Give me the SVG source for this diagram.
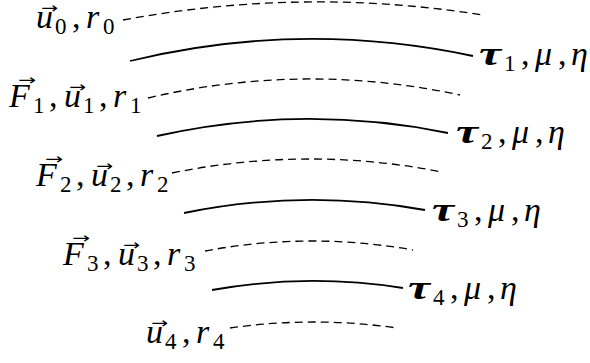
<svg xmlns="http://www.w3.org/2000/svg" width="590" height="363" viewBox="0 0 590 363">
<style>
.t{font-family:"Liberation Serif","DejaVu Serif",serif;font-size:34px;fill:#000}
.i{font-style:italic}
.s{font-size:23px;font-style:normal}
.b{font-weight:bold;font-style:italic}
.a{font-family:"DejaVu Sans",sans-serif;font-size:15px;fill:#000}
.sol{fill:none;stroke:#000;stroke-width:1.8}
.das{fill:none;stroke:#000;stroke-width:1.3;stroke-dasharray:8 5}
</style>
<rect width="590" height="363" fill="#fff"/>
<g id="connectors">
<path class="das" d="M123,20 Q303,-13.5 483,15"/>
<path class="sol" d="M130,61 Q301,19.5 473,56"/>
<path class="das" d="M148,98 Q304,61.5 460,95"/>
<path class="sol" d="M157,136 Q302,103.5 448,133"/>
<path class="das" d="M172,173 Q307,145.5 442,172"/>
<path class="sol" d="M184,213 Q304,188.5 425,210"/>
<path class="das" d="M205,251 Q309,231.5 413,250"/>
<path class="sol" d="M212,290 Q307,273 403,288"/>
<path class="das" d="M230,328 Q313,316 397,328"/>
</g>
<g id="label-u0" transform="translate(36,28)">
<text class="t"><tspan class="i" x="0" y="0">u</tspan><tspan class="s" x="19" y="6">0</tspan><tspan x="36" y="0">,</tspan><tspan class="i" x="50" y="0">r</tspan><tspan class="s" x="67" y="6">0</tspan></text>
<text class="a" x="5" y="-15" textLength="17" lengthAdjust="spacingAndGlyphs">→</text>
</g>
<g id="label-F1" transform="translate(9,107)">
<text class="t"><tspan class="i" x="0" y="0">F</tspan><tspan class="s" x="24" y="6">1</tspan><tspan x="40" y="0">,</tspan><tspan class="i" x="55" y="0">u</tspan><tspan class="s" x="74" y="6">1</tspan><tspan x="90" y="0">,</tspan><tspan class="i" x="104" y="0">r</tspan><tspan class="s" x="121" y="6">1</tspan></text>
<text class="a" x="9" y="-22" textLength="18" lengthAdjust="spacingAndGlyphs">→</text>
<text class="a" x="60" y="-15" textLength="17" lengthAdjust="spacingAndGlyphs">→</text>
</g>
<g id="label-F2" transform="translate(36,186)">
<text class="t"><tspan class="i" x="0" y="0">F</tspan><tspan class="s" x="24" y="6">2</tspan><tspan x="40" y="0">,</tspan><tspan class="i" x="55" y="0">u</tspan><tspan class="s" x="74" y="6">2</tspan><tspan x="90" y="0">,</tspan><tspan class="i" x="104" y="0">r</tspan><tspan class="s" x="121" y="6">2</tspan></text>
<text class="a" x="9" y="-22" textLength="18" lengthAdjust="spacingAndGlyphs">→</text>
<text class="a" x="60" y="-15" textLength="17" lengthAdjust="spacingAndGlyphs">→</text>
</g>
<g id="label-F3" transform="translate(63,265)">
<text class="t"><tspan class="i" x="0" y="0">F</tspan><tspan class="s" x="24" y="6">3</tspan><tspan x="40" y="0">,</tspan><tspan class="i" x="55" y="0">u</tspan><tspan class="s" x="74" y="6">3</tspan><tspan x="90" y="0">,</tspan><tspan class="i" x="104" y="0">r</tspan><tspan class="s" x="121" y="6">3</tspan></text>
<text class="a" x="9" y="-22" textLength="18" lengthAdjust="spacingAndGlyphs">→</text>
<text class="a" x="60" y="-15" textLength="17" lengthAdjust="spacingAndGlyphs">→</text>
</g>
<g id="label-u4" transform="translate(146,343)">
<text class="t"><tspan class="i" x="0" y="0">u</tspan><tspan class="s" x="19" y="6">4</tspan><tspan x="36" y="0">,</tspan><tspan class="i" x="50" y="0">r</tspan><tspan class="s" x="67" y="6">4</tspan></text>
<text class="a" x="5" y="-15" textLength="17" lengthAdjust="spacingAndGlyphs">→</text>
</g>
<g id="label-tau1" transform="translate(479,65)">
<text class="t"><tspan class="b" x="0" y="0" textLength="22" lengthAdjust="spacingAndGlyphs">τ</tspan><tspan class="s" x="25" y="6">1</tspan><tspan x="42" y="0">,</tspan><tspan class="i" x="56" y="0">μ</tspan><tspan x="79" y="0">,</tspan><tspan class="i" x="92" y="0">η</tspan></text>
</g>
<g id="label-tau2" transform="translate(456,143)">
<text class="t"><tspan class="b" x="0" y="0" textLength="22" lengthAdjust="spacingAndGlyphs">τ</tspan><tspan class="s" x="25" y="6">2</tspan><tspan x="42" y="0">,</tspan><tspan class="i" x="56" y="0">μ</tspan><tspan x="79" y="0">,</tspan><tspan class="i" x="92" y="0">η</tspan></text>
</g>
<g id="label-tau3" transform="translate(432,221)">
<text class="t"><tspan class="b" x="0" y="0" textLength="22" lengthAdjust="spacingAndGlyphs">τ</tspan><tspan class="s" x="25" y="6">3</tspan><tspan x="42" y="0">,</tspan><tspan class="i" x="56" y="0">μ</tspan><tspan x="79" y="0">,</tspan><tspan class="i" x="92" y="0">η</tspan></text>
</g>
<g id="label-tau4" transform="translate(408,299)">
<text class="t"><tspan class="b" x="0" y="0" textLength="22" lengthAdjust="spacingAndGlyphs">τ</tspan><tspan class="s" x="25" y="6">4</tspan><tspan x="42" y="0">,</tspan><tspan class="i" x="56" y="0">μ</tspan><tspan x="79" y="0">,</tspan><tspan class="i" x="92" y="0">η</tspan></text>
</g>
</svg>
